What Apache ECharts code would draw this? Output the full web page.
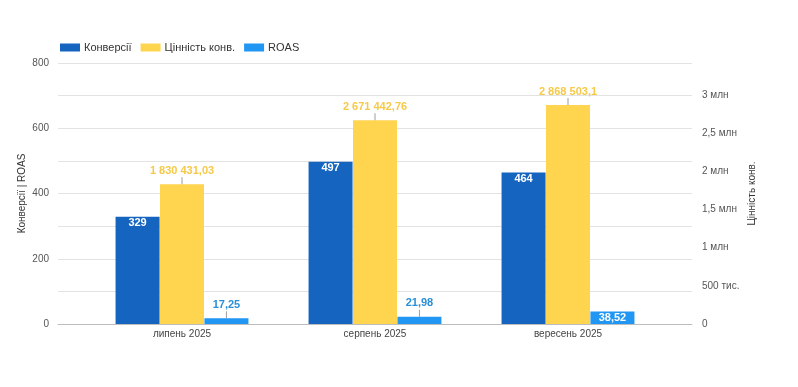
<!DOCTYPE html>
<html><head><meta charset="utf-8">
<script src="https://cdn.jsdelivr.net/npm/echarts@6/dist/echarts.min.js"></script>
<style>html,body{margin:0;padding:0;background:#fff}#c{width:798px;height:387px}</style>
</head><body><div id="c"></div>
<script>
const categories = ['липень 2025', 'серпень 2025', 'вересень 2025'];
const conversions = [329, 497, 464];
const convValue = [1830431.03, 2671442.76, 2868503.1];
const roas = [17.25, 21.98, 38.52];
const seriesNames = ['Конверсії', 'Цінність конв.', 'ROAS'];
const leftTicks = [0, 200, 400, 600, 800];
const rightTickLabels = {0: '0', 500000: '500 тис.', 1000000: '1 млн', 1500000: '1,5 млн', 2000000: '2 млн', 2500000: '2,5 млн', 3000000: '3 млн'};

function fmt(v) {
  const parts = String(v).split('.');
  const int = parts[0].replace(/\B(?=(\d{3})+(?!\d))/g, ' ');
  return parts[1] ? int + ',' + parts[1] : int;
}
const FONT = '"Liberation Sans", Arial, sans-serif';
const chart = echarts.init(document.getElementById('c'), null, {renderer: 'canvas'});
const leaderRich = (color) => ({
  v: {color: color, fontSize: 11, fontWeight: 'bold', fontFamily: FONT, lineHeight: 13},
  l: {width: 1, height: 7, backgroundColor: '#9e9e9e'}
});
chart.setOption({
  backgroundColor: '#fff',
  textStyle: {fontFamily: FONT},
  legend: {
    left: 55, top: 37, itemWidth: 20, itemHeight: 8, itemGap: 9,
    icon: 'rect',
    textStyle: {fontSize: 11, color: '#333', fontFamily: FONT, padding: [0, 0, 0, -1]},
    data: seriesNames
  },
  grid: [
    {left: 58, right: 106, top: 63, bottom: 63},
    {left: 85.5, right: 133.5, top: 63, bottom: 63}
  ],
  xAxis: [
    {gridIndex: 0, type: 'value', min: 0, max: 1, axisLine: {show: true, lineStyle: {color: '#bdbdbd'}},
     axisTick: {show: false}, axisLabel: {show: false}, splitLine: {show: false}},
    {gridIndex: 1, type: 'category', data: categories, axisLine: {show: false}, axisTick: {show: false},
     axisLabel: {fontSize: 10, color: '#444', margin: 5, fontFamily: FONT}}
  ],
  yAxis: [
    {gridIndex: 0, type: 'value', min: 0, max: 800, interval: 100,
     name: 'Конверсії | ROAS', nameLocation: 'middle', nameRotate: 90, nameGap: 31, nameMoveOverlap: false,
     nameTextStyle: {fontSize: 10, color: '#333', fontFamily: FONT},
     axisLine: {show: false}, axisTick: {show: false},
     axisLabel: {fontSize: 10, color: '#555', margin: 9, fontFamily: FONT,
       formatter: v => leftTicks.includes(v) ? String(v) : ''},
     splitLine: {lineStyle: {color: '#e3e3e3'}}},
    {gridIndex: 0, type: 'value', min: 0, max: 3420000, interval: 500000, position: 'right',
     name: 'Цінність конв.', nameLocation: 'middle', nameRotate: 90, nameGap: 55, nameMoveOverlap: false,
     nameTextStyle: {fontSize: 10, color: '#333', fontFamily: FONT},
     axisLine: {show: false}, axisTick: {show: false},
     axisLabel: {fontSize: 10, color: '#555', margin: 10, fontFamily: FONT, showMaxLabel: false,
       formatter: v => rightTickLabels[v] !== undefined ? rightTickLabels[v] : ''},
     splitLine: {show: false}},
    {gridIndex: 1, type: 'value', min: 0, max: 800, show: false},
    {gridIndex: 1, type: 'value', min: 0, max: 3420000, show: false}
  ],
  series: [
    {name: seriesNames[0], type: 'bar', xAxisIndex: 1, yAxisIndex: 2, data: conversions,
     barWidth: 44, barGap: '1%', itemStyle: {color: '#1565c0'},
     label: {show: true, position: 'insideTop', distance: 1, color: '#fff', fontSize: 11, fontWeight: 'bold', fontFamily: FONT,
       formatter: p => fmt(p.value)}},
    {name: seriesNames[1], type: 'bar', xAxisIndex: 1, yAxisIndex: 3, data: convValue,
     barWidth: 44, barGap: '1%', itemStyle: {color: '#ffd54f'},
     label: {show: true, position: 'top', distance: 0, rich: leaderRich('#f7c948'),
       formatter: p => '{v|' + fmt(p.value) + '}\n{l|}'}},
    {name: seriesNames[2], type: 'bar', xAxisIndex: 1, yAxisIndex: 2,
     data: roas.map((v, i) => i === 2 ? {value: v, label: {position: 'inside', formatter: fmt(v), color: '#fff', fontSize: 11, fontWeight: 'bold', fontFamily: FONT}} : v),
     barWidth: 44, barGap: '1%', itemStyle: {color: '#2196f3'},
     label: {show: true, position: 'top', distance: 0, rich: leaderRich('#2a8fd6'),
       formatter: p => '{v|' + fmt(p.value) + '}\n{l|}'}}
  ]
});
</script></body></html>
